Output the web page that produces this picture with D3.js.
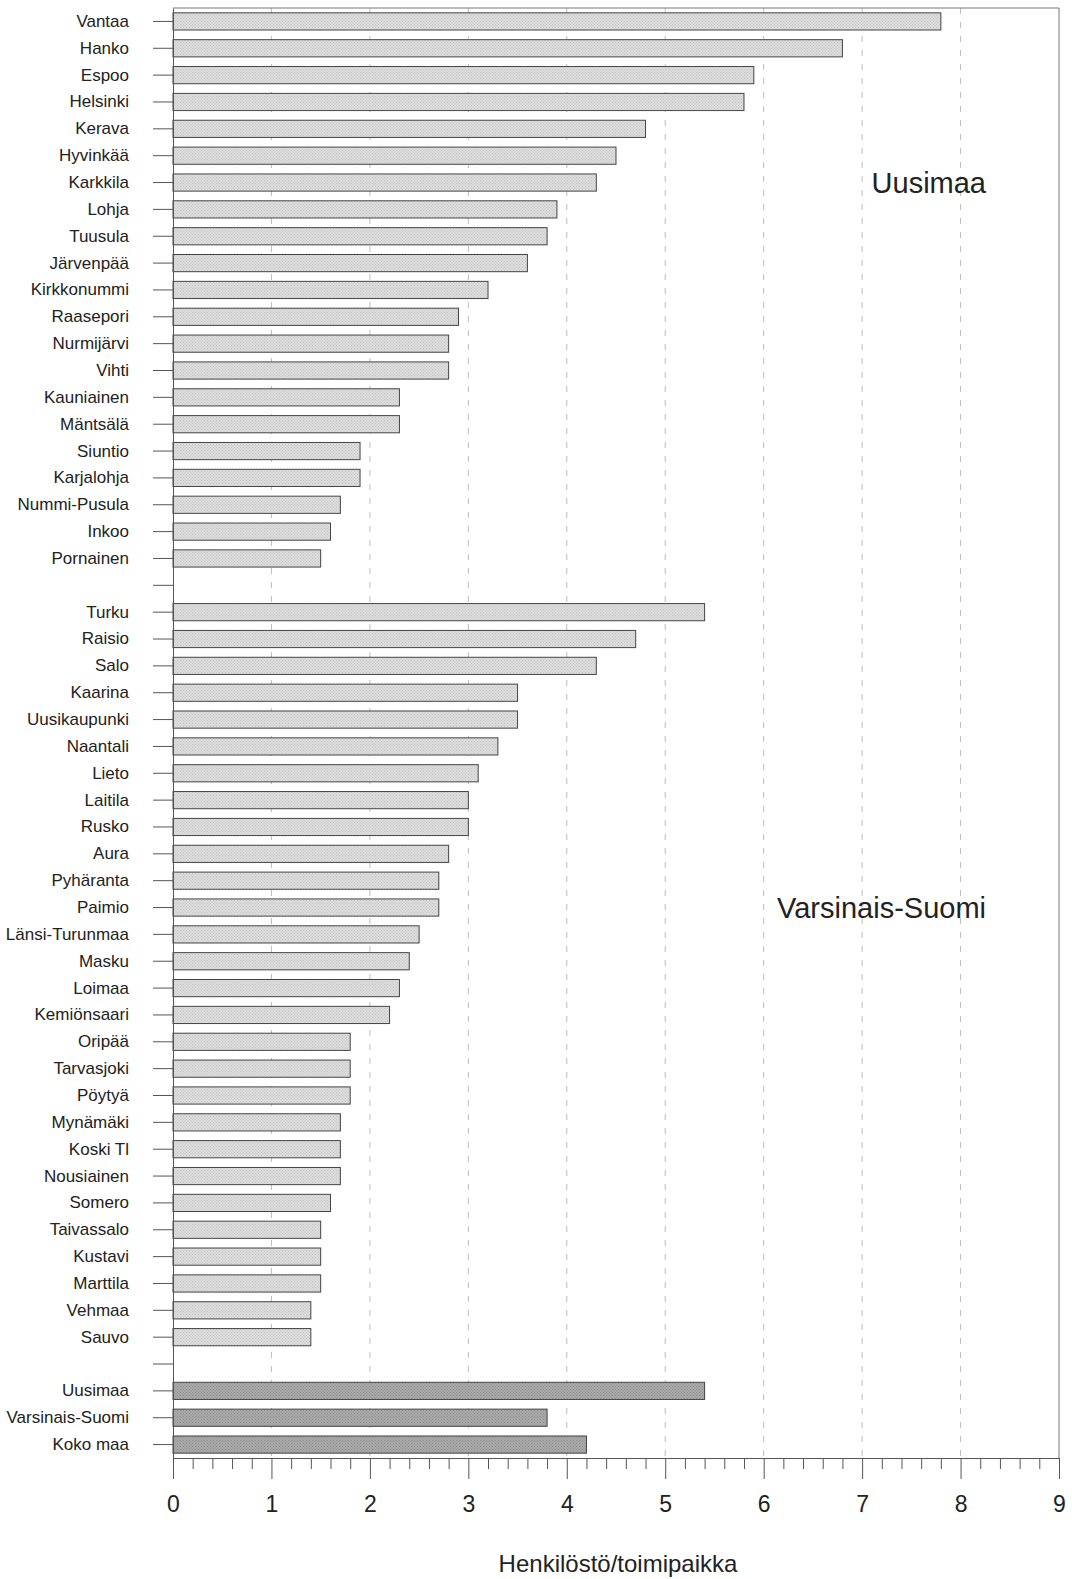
<!DOCTYPE html>
<html>
<head>
<meta charset="utf-8">
<script src="https://cdn.jsdelivr.net/npm/d3@7"></script>
<style>
  body { margin: 0; background: #fff; }
  text { font-family: "Liberation Sans", Arial, sans-serif; fill: #222; }
</style>
</head>
<body>
<script>
// Uusimaa municipalities
const uusimaaNames = ["Vantaa", "Hanko", "Espoo", "Helsinki", "Kerava", "Hyvinkää", "Karkkila", "Lohja", "Tuusula", "Järvenpää", "Kirkkonummi", "Raasepori", "Nurmijärvi", "Vihti", "Kauniainen", "Mäntsälä", "Siuntio", "Karjalohja", "Nummi-Pusula", "Inkoo", "Pornainen"];
const uusimaaValues = [7.8, 6.8, 5.9, 5.8, 4.8, 4.5, 4.3, 3.9, 3.8, 3.6, 3.2, 2.9, 2.8, 2.8, 2.3, 2.3, 1.9, 1.9, 1.7, 1.6, 1.5];

// Varsinais-Suomi municipalities
const varsinaisNames = ["Turku", "Raisio", "Salo", "Kaarina", "Uusikaupunki", "Naantali", "Lieto", "Laitila", "Rusko", "Aura", "Pyhäranta", "Paimio", "Länsi-Turunmaa", "Masku", "Loimaa", "Kemiönsaari", "Oripää", "Tarvasjoki", "Pöytyä", "Mynämäki", "Koski Tl", "Nousiainen", "Somero", "Taivassalo", "Kustavi", "Marttila", "Vehmaa", "Sauvo"];
const varsinaisValues = [5.4, 4.7, 4.3, 3.5, 3.5, 3.3, 3.1, 3.0, 3.0, 2.8, 2.7, 2.7, 2.5, 2.4, 2.3, 2.2, 1.8, 1.8, 1.8, 1.7, 1.7, 1.7, 1.6, 1.5, 1.5, 1.5, 1.4, 1.4];

// regional and national averages
const totalNames = ["Uusimaa", "Varsinais-Suomi", "Koko maa"];
const totalValues = [5.4, 3.8, 4.2];

const xTicks = [0, 1, 2, 3, 4, 5, 6, 7, 8, 9];
const xTitle = "Henkilöstö/toimipaikka";
const regionLabels = ["Uusimaa", "Varsinais-Suomi"];

const width = 1072;
const height = 1579;
const marginTop = 8;
const marginLeft = 173;
const plotRight = 1059;
const axisY = 1458;

// rows: blank rows (gap1, gap2) separate groups
const rows = [
  ...uusimaaNames.map((n, i) => ({key: "u" + i, name: n, value: uusimaaValues[i], dark: false})),
  {key: "gap1", name: "", value: null},
  ...varsinaisNames.map((n, i) => ({key: "v" + i, name: n, value: varsinaisValues[i], dark: false})),
  {key: "gap2", name: "", value: null},
  ...totalNames.map((n, i) => ({key: "t" + i, name: n, value: totalValues[i], dark: true}))
];

const x = d3.scaleLinear()
    .domain([0, 9])
    .range([marginLeft, plotRight]);

const y = d3.scaleBand()
    .domain(rows.map(d => d.key))
    .range([marginTop, axisY])
    .paddingInner(0.36)
    .paddingOuter(0.18);

const svg = d3.select("body")
  .append("svg")
    .attr("width", width)
    .attr("height", height)
    .attr("viewBox", [0, 0, width, height]);

// stipple textures for the bars
const defs = svg.append("defs");
function stipple(id, base, dot) {
  const p = defs.append("pattern")
      .attr("id", id)
      .attr("patternUnits", "userSpaceOnUse")
      .attr("width", 3)
      .attr("height", 3);
  p.append("rect").attr("width", 3).attr("height", 3).attr("fill", base);
  p.append("rect").attr("x", 0).attr("y", 0).attr("width", 1).attr("height", 1).attr("fill", dot);
  p.append("rect").attr("x", 1.5).attr("y", 1.5).attr("width", 1).attr("height", 1).attr("fill", dot);
}
stipple("lightFill", "#dddddd", "#c4c4c4");
stipple("darkFill", "#a9a9a9", "#8e8e8e");

// dashed grid lines
svg.append("g")
  .selectAll("line")
  .data(xTicks.slice(1, -1))
  .join("line")
    .attr("x1", d => x(d))
    .attr("x2", d => x(d))
    .attr("y1", marginTop)
    .attr("y2", axisY)
    .attr("stroke", "#bdbdbd")
    .attr("stroke-width", 1)
    .attr("stroke-dasharray", "6,8");

// frame: top and right
svg.append("path")
    .attr("d", `M${x(0)},${marginTop}H${x(9)}V${axisY}`)
    .attr("fill", "none")
    .attr("stroke", "#777")
    .attr("stroke-width", 1);

// bars
svg.append("g")
  .selectAll("rect")
  .data(rows.filter(d => d.value != null))
  .join("rect")
    .attr("x", x(0))
    .attr("y", d => y(d.key))
    .attr("width", d => x(d.value) - x(0))
    .attr("height", y.bandwidth())
    .attr("fill", d => d.dark ? "url(#darkFill)" : "url(#lightFill)")
    .attr("stroke", "#444")
    .attr("stroke-width", 1);

// Y Axis
svg.append("g")
    .attr("transform", `translate(${x(0)},0)`)
    .call(d3.axisLeft(y)
      .tickSize(20)
      .tickPadding(24)
      .tickSizeOuter(0)
      .tickFormat(k => rows.find(r => r.key === k).name))
    .call(g => g.select(".domain").attr("stroke", "#555"))
    .call(g => g.selectAll(".tick line").attr("stroke", "#555"))
    .call(g => g.selectAll(".tick text")
      .attr("font-size", 17)
      .attr("font-family", "'Liberation Sans', Arial, sans-serif")
      .attr("fill", "#222"));

// X Axis: minor ticks every 0.2
svg.append("g")
    .attr("transform", `translate(0,${axisY})`)
    .call(d3.axisBottom(x)
      .tickValues(d3.range(0, 45).map(i => i / 5).filter(v => Math.abs(v - Math.round(v)) > 1e-6))
      .tickSize(11)
      .tickFormat(""))
    .call(g => g.select(".domain").remove())
    .call(g => g.selectAll(".tick line").attr("stroke", "#555"));

svg.append("g")
    .attr("transform", `translate(0,${axisY})`)
    .call(d3.axisBottom(x)
      .tickValues(xTicks)
      .tickSize(21)
      .tickSizeOuter(0)
      .tickPadding(17))
    .call(g => g.select(".domain").attr("stroke", "#555"))
    .call(g => g.selectAll(".tick line").attr("stroke", "#555"))
    .call(g => g.selectAll(".tick text")
      .attr("font-size", 23)
      .attr("font-family", "'Liberation Sans', Arial, sans-serif")
      .attr("fill", "#222"));

// X-axis Label
svg.append("text")
    .attr("text-anchor", "middle")
    .attr("x", 618)
    .attr("y", 1572)
    .attr("font-size", 24)
    .text(xTitle);

// region labels
const regionY = [y("u6") + y.bandwidth() / 2, y("v11") + y.bandwidth() / 2];
svg.append("g")
  .selectAll("text")
  .data(regionLabels)
  .join("text")
    .attr("text-anchor", "end")
    .attr("x", 986)
    .attr("y", (d, i) => regionY[i])
    .attr("dy", "0.35em")
    .attr("font-size", 29)
    .text(d => d);
</script>
</body>
</html>
